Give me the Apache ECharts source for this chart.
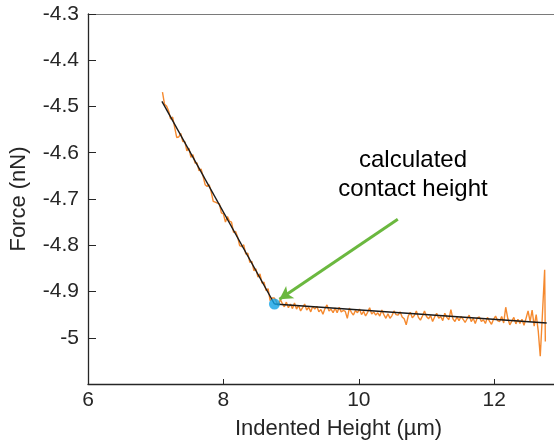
<!DOCTYPE html>
<html>
<head>
<meta charset="utf-8">
<script src="https://cdn.jsdelivr.net/npm/echarts@6/dist/echarts.min.js"></script>
<style>
html,body{margin:0;padding:0;background:#fff;overflow:hidden;width:554px;height:447px;}
#chart{width:620px;height:447px;}
</style>
</head>
<body>
<div id="chart"></div>
<script>
// Indented height (µm) of the measured trace
var heightUm = [
7.10,7.13,7.16,7.19,7.22,7.25,7.28,7.31,7.34,7.37,7.40,7.43,7.46,7.49,7.52,7.55,7.58,7.61,7.64,7.67,
7.70,7.73,7.76,7.79,7.82,7.85,7.88,7.91,7.94,7.97,8.00,8.03,8.06,8.09,8.12,8.15,8.18,8.21,8.24,8.27,
8.30,8.33,8.36,8.39,8.42,8.45,8.48,8.51,8.54,8.57,8.60,8.63,8.66,8.69,8.72,8.75,
8.78,8.81,8.84,8.87,8.90,8.93,8.96,8.99,9.02,9.05,
9.08,9.11,9.14,9.17,9.20,9.23,9.26,9.29,9.32,9.35,
9.38,9.41,9.44,9.47,9.50,9.53,9.56,9.59,9.62,9.65,
9.68,9.71,9.74,9.77,9.80,9.83,9.86,9.89,9.92,9.95,
9.98,10.01,10.04,10.07,10.10,10.13,10.16,10.19,10.22,10.25,
10.28,10.31,10.34,10.37,10.40,10.43,10.46,10.49,10.52,10.55,
10.58,10.61,10.64,10.67,10.70,10.73,10.76,10.79,10.82,10.85,
10.88,10.91,10.94,10.97,11.00,11.03,11.06,11.09,11.12,11.15,
11.18,11.21,11.24,11.27,11.30,11.33,11.36,11.39,11.42,11.45,
11.48,11.51,11.54,11.57,11.60,11.63,11.66,11.69,11.72,11.75,
11.78,11.81,11.84,11.87,11.90,11.93,11.96,11.99,12.02,12.05,
12.08,12.11,12.14,12.17,12.20,12.23,12.26,12.29,12.32,12.35,
12.38,12.41,12.44,12.47,12.50,12.53,12.56,12.59,12.62,12.65,
12.68,12.71,12.745,12.755
];
// Force (nN) of the measured trace
var forceNn = [
-4.469,-4.495,-4.499,-4.509,-4.527,-4.523,-4.545,-4.567,-4.566,-4.558,-4.576,-4.576,-4.596,-4.590,-4.610,-4.604,-4.622,-4.622,-4.639,-4.635,
-4.651,-4.669,-4.673,-4.669,-4.685,-4.705,-4.707,-4.709,-4.710,-4.730,-4.732,-4.750,-4.738,-4.748,-4.750,-4.772,-4.770,-4.782,-4.801,-4.803,
-4.799,-4.819,-4.817,-4.837,-4.835,-4.855,-4.851,-4.869,-4.862,-4.882,-4.880,-4.898,-4.894,-4.920,-4.914,-4.914,
-4.921,-4.931,-4.917,-4.926,-4.933,-4.923,-4.935,-4.927,-4.937,-4.925,
-4.938,-4.930,-4.942,-4.935,-4.927,-4.940,-4.934,-4.944,-4.932,-4.938,
-4.932,-4.944,-4.939,-4.949,-4.937,-4.929,-4.942,-4.938,-4.946,-4.936,
-4.946,-4.934,-4.944,-4.941,-4.943,-4.958,-4.936,-4.945,-4.951,-4.941,
-4.946,-4.938,-4.950,-4.943,-4.953,-4.945,-4.935,-4.949,-4.944,-4.951,
-4.946,-4.953,-4.940,-4.950,-4.958,-4.948,-4.958,-4.952,-4.942,-4.950,
-4.951,-4.944,-4.955,-4.959,-4.972,-4.953,-4.945,-4.957,-4.952,-4.942,
-4.956,-4.962,-4.953,-4.942,-4.954,-4.959,-4.952,-4.965,-4.955,-4.947,
-4.958,-4.954,-4.963,-4.947,-4.956,-4.961,-4.939,-4.959,-4.965,-4.955,
-4.963,-4.954,-4.960,-4.967,-4.959,-4.951,-4.965,-4.958,-4.969,-4.957,
-4.955,-4.965,-4.961,-4.969,-4.956,-4.964,-4.971,-4.960,-4.953,-4.963,
-4.965,-4.954,-4.968,-4.934,-4.958,-4.972,-4.964,-4.956,-4.970,-4.960,
-4.969,-4.960,-4.973,-4.958,-4.942,-4.965,-4.940,-4.975,-4.950,-4.985,
-5.040,-4.955,-4.853,-5.008
];
// Linear fits (approach and contact regions)
var fitApproach = [[7.092, -4.489], [8.754, -4.927]];
var fitContact = [[8.754, -4.927], [12.775, -4.968]];
// Calculated contact point
var contactPoint = [[8.754, -4.927]];
// Annotation arrow (tail, head) in data units
var arrowTail = [10.576, -4.744];
var arrowHead = [8.828, -4.917];
var annotationLines = ['calculated', 'contact height'];
// Axis ticks
var xTicks = [6, 8, 10, 12];
var yTicks = [-4.3, -4.4, -4.5, -4.6, -4.7, -4.8, -4.9, -5];

var trace = heightUm.map(function (h, i) { return [h, forceNn[i]]; });

var FONT = '"Liberation Sans", Arial, sans-serif';
var AX = '#262626';

var chart = echarts.init(document.getElementById('chart'), null, {renderer: 'canvas'});
chart.setOption({
  animation: false,
  backgroundColor: '#ffffff',
  grid: {left: 87, top: 14, width: 502, height: 370, containLabel: false},
  xAxis: [{
    type: 'value', min: 6, max: 13.4, interval: 2,
    name: 'Indented Height (µm)', nameLocation: 'middle', nameGap: 34,
    nameTextStyle: {fontFamily: FONT, fontSize: 22, color: AX},
    axisLine: {show: true, onZero: false, lineStyle: {color: AX, width: 1.3}},
    axisTick: {show: true, inside: true, length: 5, lineStyle: {color: AX, width: 1}},
    axisLabel: {fontFamily: FONT, fontSize: 21, color: AX, margin: 6,
      formatter: function (v) { return xTicks.indexOf(Math.round(v * 1000) / 1000) >= 0 ? String(v) : ''; }},
    splitLine: {show: false}
  }, {
    type: 'value', min: 6, max: 13.4, position: 'top',
    axisLine: {show: true, onZero: false, lineStyle: {color: '#7a7a7a', width: 1}},
    axisTick: {show: false}, axisLabel: {show: false}, splitLine: {show: false}
  }],
  yAxis: [{
    type: 'value', min: -5.1, max: -4.3, interval: 0.1,
    name: 'Force (nN)', nameLocation: 'middle', nameGap: 58, nameRotate: 90,
    nameTextStyle: {fontFamily: FONT, fontSize: 22, color: AX},
    axisLine: {show: true, onZero: false, lineStyle: {color: AX, width: 1.3}},
    axisTick: {show: true, inside: true, length: 8, lineStyle: {color: AX, width: 1}},
    axisLabel: {fontFamily: FONT, fontSize: 21, color: AX, margin: 9,
      formatter: function (v) {
        var r = Math.round(v * 1000) / 1000;
        return yTicks.indexOf(r) >= 0 ? String(r) : '';
      }},
    splitLine: {show: false}
  }],
  series: [{
    type: 'line', data: trace, showSymbol: false, symbol: 'none',
    lineStyle: {color: '#f5892e', width: 1.4}, z: 2, silent: true
  }, {
    type: 'line', data: fitApproach, showSymbol: false, symbol: 'none',
    lineStyle: {color: '#1a1a1a', width: 1.4}, z: 3, silent: true
  }, {
    type: 'line', data: fitContact, showSymbol: false, symbol: 'none',
    lineStyle: {color: '#1a1a1a', width: 1.4}, z: 3, silent: true
  }, {
    type: 'scatter', data: contactPoint, symbol: 'circle', symbolSize: 11,
    itemStyle: {color: '#10a3e6'}, z: 5, silent: true,
    markLine: {
      silent: true, symbol: ['none', 'arrow'], symbolSize: [11, 13],
      lineStyle: {color: '#6bb83f', width: 3, type: 'solid'},
      label: {show: false},
      data: [[{coord: arrowTail}, {coord: arrowHead}]]
    }
  }],
  graphic: [{
    type: 'text', x: 413, y: 160,
    style: {text: annotationLines[0], font: '24px ' + FONT, fill: '#000', textAlign: 'center', textVerticalAlign: 'middle'}
  }, {
    type: 'text', x: 413, y: 189,
    style: {text: annotationLines[1], font: '24px ' + FONT, fill: '#000', textAlign: 'center', textVerticalAlign: 'middle'}
  }]
});
</script>
</body>
</html>
